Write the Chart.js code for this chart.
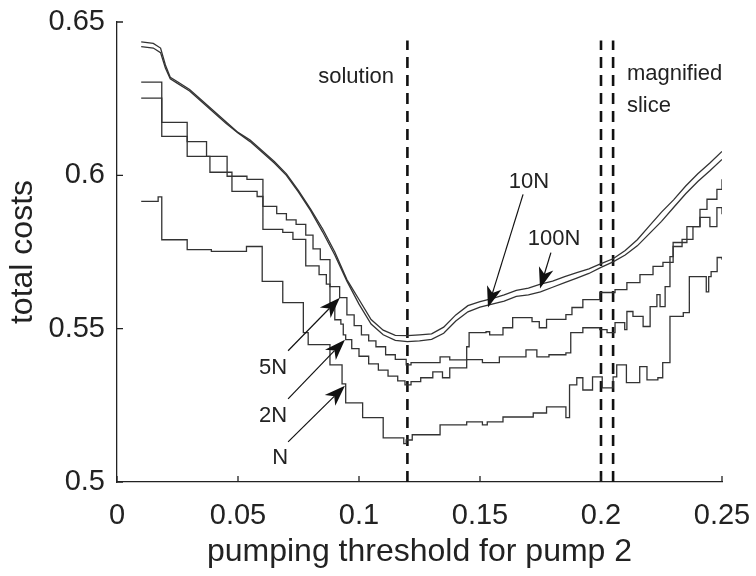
<!DOCTYPE html>
<html>
<head>
<meta charset="utf-8">
<script src="https://cdn.jsdelivr.net/npm/chart.js@4.4.1/dist/chart.umd.min.js"></script>
<style>
  html, body { margin: 0; padding: 0; background: #fff; }
  canvas { display: block; }
</style>
</head>
<body>
<canvas id="costChart" width="756" height="576"></canvas>
<script>
// axis ticks
const xTickValues = [0, 0.05, 0.1, 0.15, 0.2, 0.25];
const xTickLabels = ["0", "0.05", "0.1", "0.15", "0.2", "0.25"];
const yTickValues = [0.5, 0.55, 0.6, 0.65];
const yTickLabels = ["0.5", "0.55", "0.6", "0.65"];

// N samples
const nX = [0.010, 0.017, 0.0185, 0.029, 0.039, 0.0535, 0.060, 0.0685, 0.077, 0.079, 0.088, 0.093, 0.0945,
  0.1015, 0.110, 0.1185, 0.1195, 0.122, 0.1335, 0.1445, 0.151, 0.153, 0.1595, 0.172, 0.1775, 0.1855,
  0.187, 0.190, 0.1925, 0.1965, 0.2005, 0.205, 0.2065, 0.2105, 0.216, 0.219, 0.2235, 0.2255, 0.2285,
  0.234, 0.2365, 0.2435, 0.2445, 0.2455, 0.248, 0.250];
const nY = [0.5915, 0.593, 0.579, 0.5758, 0.5752, 0.5768, 0.5654, 0.5585, 0.5487, 0.5448, 0.5382, 0.532, 0.5258,
  0.521, 0.5144, 0.5125, 0.5137, 0.5154, 0.5186, 0.5196, 0.5186, 0.5196, 0.5212, 0.5225, 0.5245, 0.521,
  0.5317, 0.534, 0.530, 0.5343, 0.5307, 0.5343, 0.5382, 0.5324, 0.5376, 0.5333, 0.534, 0.5389, 0.554,
  0.5552, 0.567, 0.562, 0.567, 0.5686, 0.5732, 0.5725];

// 2N samples
const n2X = [0.010, 0.0185, 0.029, 0.0384, 0.0475, 0.0579, 0.0603, 0.0685, 0.0727, 0.078, 0.0835, 0.0865,
  0.088, 0.090, 0.0925, 0.0935, 0.0945, 0.097, 0.100, 0.104, 0.108, 0.112, 0.116, 0.119, 0.1215, 0.1255,
  0.1305, 0.1345, 0.1375, 0.1445, 0.151, 0.158, 0.169, 0.1735, 0.1785, 0.1855, 0.1875, 0.1925, 0.1995,
  0.2025, 0.2058, 0.2098, 0.2107, 0.2132, 0.2174, 0.2203, 0.2231, 0.2244, 0.2265, 0.2285, 0.2298, 0.2335,
  0.238, 0.2409, 0.245, 0.2479, 0.250];
const n2Y = [0.6252, 0.6127, 0.6062, 0.601, 0.5948, 0.5931, 0.5824, 0.5814, 0.5791, 0.5705, 0.5676, 0.5645,
  0.5585, 0.5529, 0.5515, 0.548, 0.5464, 0.5435, 0.541, 0.5385, 0.5365, 0.5345, 0.533, 0.5317, 0.5327, 0.534,
  0.5359, 0.534, 0.5372, 0.5399, 0.5389, 0.5408, 0.5431, 0.5408, 0.5415, 0.5421, 0.5487, 0.5503, 0.5497,
  0.5487, 0.552, 0.5497, 0.5556, 0.554, 0.5507, 0.5572, 0.5611, 0.5572, 0.5637, 0.5735, 0.5768, 0.5791,
  0.5833, 0.5863, 0.5833, 0.5895, 0.5873];

// 5N samples
const n5X = [0.010, 0.0185, 0.029, 0.037, 0.0455, 0.0537, 0.0603, 0.066, 0.070, 0.074, 0.078, 0.081, 0.084,
  0.088, 0.092, 0.095, 0.098, 0.101, 0.104, 0.107, 0.111, 0.115, 0.1195, 0.1215, 0.1335, 0.1375, 0.1445,
  0.1455, 0.1525, 0.154, 0.1595, 0.1635, 0.1715, 0.1745, 0.1775, 0.1855, 0.188, 0.1925, 0.1995, 0.2058,
  0.2107, 0.2161, 0.2215, 0.2256, 0.2298, 0.2355, 0.2409, 0.2438, 0.2479, 0.250];
const n5Y = [0.6304, 0.6173, 0.611, 0.6062, 0.5997, 0.5987, 0.5899, 0.5875, 0.5855, 0.584, 0.5805, 0.576, 0.5725,
  0.5637, 0.5601, 0.5545, 0.551, 0.548, 0.546, 0.5441, 0.5415, 0.540, 0.5382, 0.5389, 0.5408, 0.5398, 0.5441,
  0.5487, 0.549, 0.548, 0.5503, 0.5536, 0.5523, 0.5503, 0.553, 0.5546, 0.5569, 0.5595, 0.5618, 0.5627,
  0.565, 0.5676, 0.5703, 0.5716, 0.5781, 0.5833, 0.5889, 0.5922, 0.5954, 0.5987];

// 10N and 100N share one sample grid
const pairX = [0.010, 0.015, 0.018, 0.020, 0.022, 0.025, 0.030, 0.035, 0.040, 0.045, 0.050, 0.055, 0.060,
  0.065, 0.070, 0.075, 0.080, 0.085, 0.090, 0.095, 0.100, 0.105, 0.110, 0.115, 0.120, 0.125, 0.130, 0.135,
  0.140, 0.145, 0.150, 0.155, 0.160, 0.165, 0.170, 0.175, 0.180, 0.185, 0.190, 0.195, 0.200, 0.205, 0.210,
  0.215, 0.220, 0.225, 0.230, 0.235, 0.240, 0.245, 0.250];
const n10Y = [0.642, 0.6415, 0.640, 0.635, 0.6315, 0.630, 0.6275, 0.624, 0.6205, 0.617, 0.6138, 0.611, 0.6075,
  0.604, 0.600, 0.5945, 0.5885, 0.5815, 0.574, 0.5655, 0.558, 0.5515, 0.548, 0.5462, 0.5458, 0.546, 0.5465,
  0.5485, 0.5525, 0.5555, 0.557, 0.558, 0.559, 0.5605, 0.561, 0.562, 0.5635, 0.565, 0.5665, 0.568, 0.570,
  0.5718, 0.574, 0.577, 0.581, 0.585, 0.5895, 0.594, 0.598, 0.6015, 0.6052];
const n100Y = [0.6435, 0.643, 0.6415, 0.636, 0.632, 0.6305, 0.628, 0.6245, 0.621, 0.6175, 0.614, 0.6115, 0.608,
  0.6045, 0.6005, 0.595, 0.589, 0.5825, 0.575, 0.566, 0.5595, 0.553, 0.5495, 0.5478, 0.5477, 0.548, 0.5483,
  0.5505, 0.5545, 0.5575, 0.5588, 0.5598, 0.561, 0.5625, 0.5632, 0.5645, 0.5655, 0.567, 0.5683, 0.5695,
  0.5712, 0.5728, 0.5755, 0.579, 0.5835, 0.588, 0.592, 0.5965, 0.6005, 0.604, 0.6078];

// dashed markers: solution and magnified slice
const markerX = [0.12, 0.2, 0.205];
const markerTop = 0.644;

const FONT = "'Liberation Sans', Arial, Helvetica, sans-serif";
const INK = "#222";

const toPoints = (xs, ys) => xs.map((x, i) => ({ x: x, y: ys[i] }));

const curve = (label, xs, ys, stepped) => ({
  label: label,
  data: toPoints(xs, ys),
  borderColor: "#333",
  borderWidth: 1.3,
  pointRadius: 0,
  stepped: stepped,
  tension: 0,
  fill: false,
});

const datasets = [
  curve("N", nX, nY, true),
  curve("2N", n2X, n2Y, true),
  curve("5N", n5X, n5Y, true),
  curve("10N", pairX, n10Y, false),
  curve("100N", pairX, n100Y, false),
];

markerX.forEach((mx) => {
  datasets.push({
    label: "marker",
    data: [{ x: mx, y: 0.5 }, { x: mx, y: markerTop }],
    borderColor: "#111",
    borderWidth: 2.6,
    borderDash: [11, 7],
    pointRadius: 0,
    fill: false,
  });
});

// text labels and arrows, in data units
const notes = [
  { text: "solution", x: 0.0988, y: 0.632, align: "center" },
  { text: "magnified", x: 0.2107, y: 0.633, align: "left" },
  { text: "slice", x: 0.2107, y: 0.6225, align: "left" },
  { text: "10N", x: 0.1702, y: 0.598, align: "center" },
  { text: "100N", x: 0.1806, y: 0.5791, align: "center" },
  { text: "5N", x: 0.0645, y: 0.5373, align: "center" },
  { text: "2N", x: 0.0645, y: 0.5216, align: "center" },
  { text: "N", x: 0.0674, y: 0.5078, align: "center" },
];
const arrows = [
  { from: [0.1678, 0.5938], to: [0.1533, 0.5569] },
  { from: [0.1793, 0.5748], to: [0.1748, 0.5631] },
  { from: [0.0707, 0.5428], to: [0.0921, 0.5601] },
  { from: [0.0707, 0.5271], to: [0.0942, 0.5464] },
  { from: [0.0707, 0.5131], to: [0.0942, 0.5314] },
];

const innerTicks = {
  id: "innerTicks",
  afterDraw(chart) {
    const { ctx, chartArea } = chart;
    const xs = chart.scales.x;
    const ys = chart.scales.y;
    ctx.save();
    ctx.strokeStyle = INK;
    ctx.lineWidth = 1.3;
    ctx.beginPath();
    xs.ticks.forEach((t) => {
      const px = xs.getPixelForValue(t.value);
      ctx.moveTo(px, chartArea.bottom);
      ctx.lineTo(px, chartArea.bottom - 6);
    });
    ys.ticks.forEach((t) => {
      const py = ys.getPixelForValue(t.value);
      ctx.moveTo(chartArea.left, py);
      ctx.lineTo(chartArea.left + 6, py);
    });
    ctx.stroke();
    ctx.restore();
  },
};

const annotations = {
  id: "annotations",
  afterDraw(chart) {
    const { ctx } = chart;
    const xs = chart.scales.x;
    const ys = chart.scales.y;
    ctx.save();
    ctx.fillStyle = INK;
    ctx.font = "22px " + FONT;
    ctx.textBaseline = "middle";
    notes.forEach((n) => {
      ctx.textAlign = n.align;
      ctx.fillText(n.text, xs.getPixelForValue(n.x), ys.getPixelForValue(n.y));
    });

    ctx.strokeStyle = "#111";
    ctx.fillStyle = "#111";
    ctx.lineWidth = 1.2;
    arrows.forEach((a) => {
      const x0 = xs.getPixelForValue(a.from[0]);
      const y0 = ys.getPixelForValue(a.from[1]);
      const x1 = xs.getPixelForValue(a.to[0]);
      const y1 = ys.getPixelForValue(a.to[1]);
      const ang = Math.atan2(y1 - y0, x1 - x0);
      const len = 21, half = 7.5;
      const bx = x1 - len * Math.cos(ang);
      const by = y1 - len * Math.sin(ang);
      const nx = x1 - len * 0.72 * Math.cos(ang);
      const ny = y1 - len * 0.72 * Math.sin(ang);
      ctx.beginPath();
      ctx.moveTo(x0, y0);
      ctx.lineTo(nx, ny);
      ctx.stroke();
      ctx.beginPath();
      ctx.moveTo(x1, y1);
      ctx.lineTo(bx + half * Math.sin(ang), by - half * Math.cos(ang));
      ctx.lineTo(nx, ny);
      ctx.lineTo(bx - half * Math.sin(ang), by + half * Math.cos(ang));
      ctx.closePath();
      ctx.fill();
    });
    ctx.restore();
  },
};

const ctx = document.getElementById("costChart").getContext("2d");

new Chart(ctx, {
  type: "line",
  data: { datasets: datasets },
  options: {
    responsive: false,
    animation: false,
    devicePixelRatio: 1,
    layout: { padding: { top: 22, right: 34, left: 0, bottom: 0 } },
    plugins: {
      legend: { display: false },
      tooltip: { enabled: false },
    },
    scales: {
      x: {
        type: "linear",
        min: 0,
        max: 0.25,
        afterBuildTicks: (scale) => {
          scale.ticks = xTickValues.map((v) => ({ value: v }));
        },
        afterFit: (scale) => {
          scale.height = 94;
          scale.paddingLeft = 0;
          scale.paddingRight = 0;
        },
        ticks: {
          autoSkip: false,
          maxRotation: 0,
          padding: 17,
          color: INK,
          font: { family: FONT, size: 29 },
          callback: (value, index) => xTickLabels[index],
        },
        grid: { display: true, drawOnChartArea: false, drawTicks: false },
        border: { display: true, color: INK, width: 1.3 },
        title: {
          display: true,
          text: "pumping threshold for pump 2",
          color: INK,
          font: { family: FONT, size: 32 },
          padding: { top: 0, bottom: 5 },
        },
      },
      y: {
        type: "linear",
        min: 0.5,
        max: 0.65,
        afterBuildTicks: (scale) => {
          scale.ticks = yTickValues.map((v) => ({ value: v }));
        },
        afterFit: (scale) => {
          scale.width = 117;
          scale.paddingTop = 0;
          scale.paddingBottom = 0;
        },
        ticks: {
          autoSkip: false,
          padding: 12,
          color: INK,
          font: { family: FONT, size: 29 },
          callback: (value, index) => yTickLabels[index],
        },
        grid: { display: true, drawOnChartArea: false, drawTicks: false },
        border: { display: true, color: INK, width: 1.3 },
        title: {
          display: true,
          text: "total costs",
          color: INK,
          font: { family: FONT, size: 32 },
          padding: { top: 4, bottom: 0 },
        },
      },
    },
  },
  plugins: [innerTicks, annotations],
});
</script>
</body>
</html>
